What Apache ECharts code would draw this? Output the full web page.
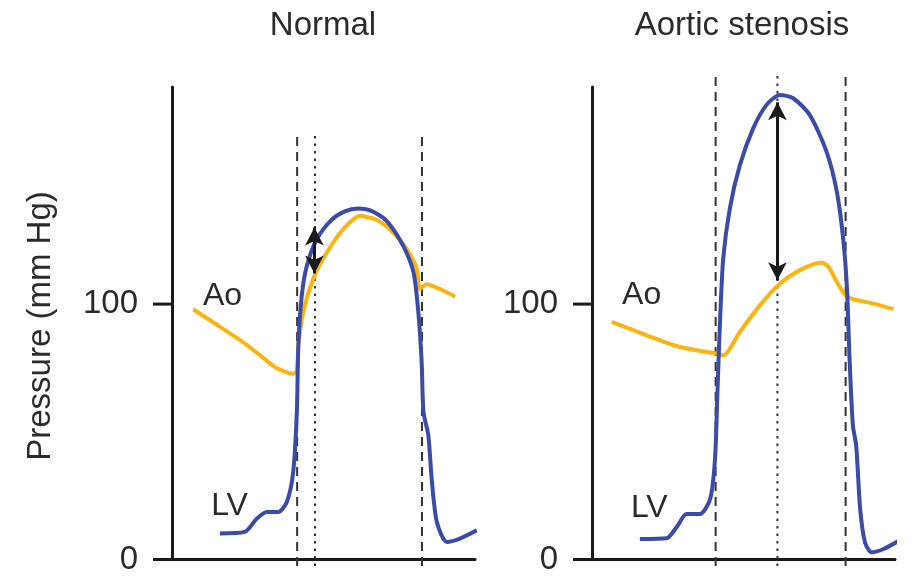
<!DOCTYPE html>
<html>
<head>
<meta charset="utf-8">
<script src="https://cdn.jsdelivr.net/npm/echarts@6/dist/echarts.min.js"></script>
<style>
  html, body { margin: 0; padding: 0; background: #fff; }
  #chart { width: 913px; height: 576px; }
</style>
</head>
<body>
<div id="chart"></div>
<script>
// pressure traces: [time, mm Hg]
const normalAo = [[7, 98], [14.7, 92], [23.5, 85], [29, 80], [34.5, 75], [40, 72.7], [41.2, 74],
  [41.7, 83.7], [43.3, 96.8], [46.6, 109.8], [51, 120], [56.5, 129.3], [62, 134.5], [67.5, 133],
  [73, 128], [77.5, 121.5], [80.8, 113.7], [81.8, 105.9], [84, 107.8], [88.4, 105.9], [93.4, 103]]
const normalLV = [[15.8, 10.2], [24, 10.8], [28, 16], [31.3, 18.6], [35, 18.6], [37.9, 22.5],
  [40, 34.3], [41.2, 57.7], [41.7, 83.7], [42.8, 103], [44.5, 115], [47.8, 125.4], [52.5, 132.8],
  [57, 136.3], [61.5, 137.4], [66, 136.4], [70.9, 132.5], [76.3, 122.8], [79.7, 112.4], [81.3, 96.8],
  [82.4, 77.2], [83, 57.7], [84.6, 48.6], [85.7, 31.6], [87.4, 14.7], [90.7, 6.9], [95, 8.2], [100.6, 11.4]]

const stenosisAo = [[6.5, 93], [18, 87.8], [29, 83.2], [41.2, 80.6], [43.3, 79.9], [48.8, 89.1],
  [55.4, 99.5], [62, 108], [68.6, 113.3], [75.8, 116.3], [78, 114.6], [80.8, 108.7], [83.6, 103.5],
  [86.3, 101.9], [92.9, 100.2], [99.5, 98]]
const stenosisLV = [[15.8, 8], [24.6, 8.3], [27.9, 12.6], [31.2, 17.8], [35.6, 17.8], [39, 23.7],
  [40.6, 39.4], [41.4, 65.6], [42.2, 91.7], [43.3, 117.8], [45.5, 137.5], [48.8, 154.4],
  [53.2, 168.8], [57.6, 178], [62, 181.9], [66.4, 180.6], [71.9, 174], [77.4, 159.7], [80.8, 144],
  [83, 124.4], [84.2, 104.8], [85, 78.6], [86.1, 52.5], [87.2, 44.6], [88.5, 19.8], [90.1, 6.7],
  [92.3, 2.8], [96.2, 4.1], [102.3, 8]]

// valve events (time) and the span of the guide lines (mm Hg)
const normalDashed = [41.3, 82.5]
const normalDotted = [47.2]
const normalGuideSpan = [-2.5, 167.6]
const stenosisDashed = [40.8, 83.7]
const stenosisDotted = [61.2]
const stenosisGuideSpan = [-2.5, 190]

// gradient arrows: [time, top, bottom]
const normalArrow = [47, 130, 112]
const stenosisArrow = [61.2, 179, 109.3]

// curve labels: [text, time, mm Hg]
const normalLabels = [['Ao', 16.7, 103], ['LV', 19, 20.7]]
const stenosisLabels = [['Ao', 16.4, 103.4], ['LV', 18.9, 20.2]]

const yTicks = [0, 100]
const titles = ['Normal', 'Aortic stenosis']
const yName = 'Pressure (mm Hg)'

const FONT = 'Liberation Sans, Arial, sans-serif'
const TEXT = '#2b2b2b'
const AXIS = '#1a1a1a'
const BLUE = '#3a4ba9'
const ORANGE = '#fbb412'

const chart = echarts.init(document.getElementById('chart'))

const axisY = (i) => ({
  type: 'value',
  gridIndex: i,
  min: 0,
  max: 185,
  axisLine: { show: true, lineStyle: { color: AXIS, width: 3 } },
  axisTick: { show: false },
  axisLabel: { customValues: yTicks, margin: 34, fontSize: 33, color: TEXT, fontFamily: FONT },
  splitLine: { show: false }
})

const axisX = (i) => ({
  type: 'value',
  gridIndex: i,
  min: 0,
  max: 100,
  axisLine: { show: true, onZero: false, lineStyle: { color: AXIS, width: 3 } },
  axisTick: { show: false },
  axisLabel: { show: false },
  splitLine: { show: false }
})

const curve = (name, data, color, i, extra) => ({
  name,
  type: 'line',
  xAxisIndex: i,
  yAxisIndex: i,
  data,
  smooth: 0.25,
  symbol: 'none',
  clip: false,
  lineStyle: { color, width: 4 },
  ...extra
})

const guides = (xs, span, dash, i) => xs.map(x => ({
  type: 'line',
  xAxisIndex: i,
  yAxisIndex: i,
  data: [[x, span[0]], [x, span[1]]],
  symbol: 'none',
  clip: false,
  silent: true,
  lineStyle: { color: '#333', width: 2, type: dash }
}))

const marks = (arrow, labels) => ({
  markLine: {
    silent: true,
    symbol: ['arrow', 'arrow'],
    symbolSize: [14, 18],
    label: { show: false },
    lineStyle: { type: 'solid', width: 3, color: AXIS },
    data: [[{ coord: [arrow[0], arrow[1]] }, { coord: [arrow[0], arrow[2]] }]]
  },
  markPoint: {
    silent: true,
    symbol: 'circle',
    symbolSize: 0,
    data: labels.map(l => ({
      coord: [l[1], l[2]],
      label: { show: true, formatter: l[0], position: 'inside', color: TEXT, fontSize: 32, fontFamily: FONT }
    }))
  }
})

const yNameText = {
  type: 'text',
  x: 41,
  y: 326,
  rotation: Math.PI / 2,
  silent: true,
  style: { text: yName, fill: TEXT, fontSize: 33, fontFamily: FONT, align: 'center', verticalAlign: 'middle' }
}

chart.setOption({
  animation: false,
  title: titles.map((t, i) => ({
    text: t,
    left: i === 0 ? 323 : 742,
    top: 9,
    padding: 0,
    textAlign: 'center',
    textStyle: { fontSize: 33, fontWeight: 'normal', color: TEXT, fontFamily: FONT }
  })),
  graphic: [yNameText],
  grid: [
    { left: 172, top: 87, width: 303, height: 474 },
    { left: 592, top: 87, width: 303, height: 474 }
  ],
  xAxis: [axisX(0), axisX(1)],
  yAxis: [axisY(0), axisY(1)],
  series: [
    ...guides(normalDashed, normalGuideSpan, [9, 6], 0),
    ...guides(normalDotted, normalGuideSpan, [2.5, 5], 0),
    ...guides(stenosisDashed, stenosisGuideSpan, [9, 6], 1),
    ...guides(stenosisDotted, stenosisGuideSpan, [2.5, 5], 1),
    curve('Ao', normalAo, ORANGE, 0),
    curve('LV', normalLV, BLUE, 0, marks(normalArrow, normalLabels)),
    curve('Ao', stenosisAo, ORANGE, 1),
    curve('LV', stenosisLV, BLUE, 1, marks(stenosisArrow, stenosisLabels))
  ]
})

// outward y ticks, placed through each grid's scale
const tickMarks = []
;[0, 1].forEach(i => {
  yTicks.forEach(v => {
    const p = chart.convertToPixel({ gridIndex: i }, [0, v])
    tickMarks.push({
      type: 'line',
      silent: true,
      z: 10,
      shape: { x1: p[0] - 19, y1: p[1], x2: p[0], y2: p[1] },
      style: { stroke: AXIS, lineWidth: 3 }
    })
  })
})
chart.setOption({ graphic: [yNameText, ...tickMarks] }, { replaceMerge: ['graphic'] })

window.addEventListener('resize', () => chart.resize())
</script>
</body>
</html>
